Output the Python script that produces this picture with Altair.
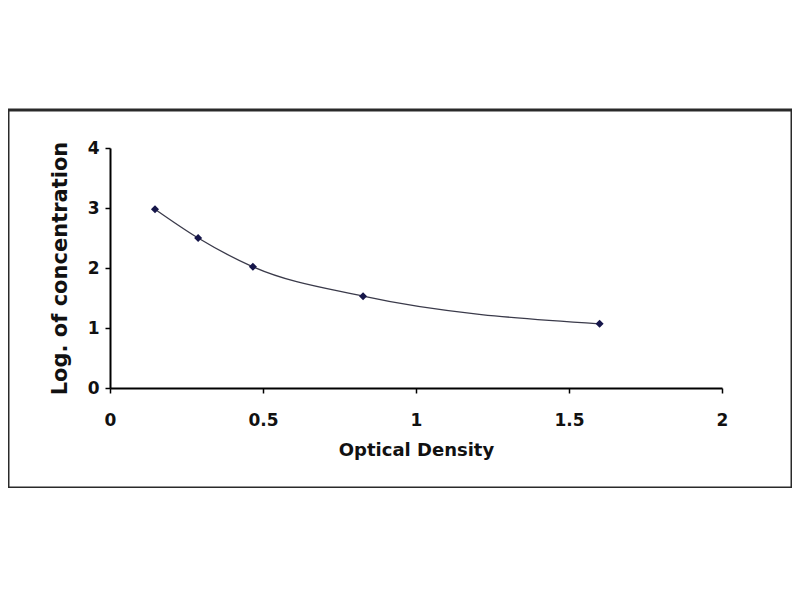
import altair as alt
import pandas as pd

# leituras do gráfico (densidade óptica x log da concentração)
optical_density = [0.147, 0.288, 0.467, 0.827, 1.60]
log_conc = [2.98, 2.50, 2.02, 1.53, 1.07]

x_ticks = [0, 0.5, 1, 1.5, 2]
y_ticks = [0, 1, 2, 3, 4]

df = pd.DataFrame({'od': optical_density, 'logc': log_conc})

FONT = 'DejaVu Sans'

# escalas com faixa em pixels, para o quadro ficar maior que a área dos eixos
x_scale = alt.Scale(domain=[0, 2], range=[102, 714], nice=False)
y_scale = alt.Scale(domain=[0, 4], range=[278, 38], nice=False)

x_enc = alt.X(
    'od:Q',
    scale=x_scale,
    axis=alt.Axis(
        title='Optical Density', values=x_ticks, format='~g', offset=-100,
        grid=False, tickSize=5, labelPadding=19, titlePadding=13, labelFlush=False,
        domainColor='black', domainWidth=2, tickColor='black', tickWidth=1.5,
        labelFont=FONT, labelFontSize=17, labelFontWeight='bold', labelColor='#111',
        titleFont=FONT, titleFontSize=18, titleFontWeight='bold', titleColor='#111',
    ),
)
y_enc = alt.Y(
    'logc:Q',
    scale=y_scale,
    axis=alt.Axis(
        title='Log. of concentration', values=y_ticks, format='d', offset=-102,
        grid=False, tickSize=5, labelPadding=6, titlePadding=17, labelFlush=False,
        domainColor='black', domainWidth=2, tickColor='black', tickWidth=1.5,
        labelFont=FONT, labelFontSize=17, labelFontWeight='bold', labelColor='#111',
        titleFont=FONT, titleFontSize=21, titleFontWeight='bold', titleColor='#111',
    ),
)

curve = alt.Chart(df).mark_line(
    interpolate='monotone', color='#3a3a4a', strokeWidth=1.3
).encode(x=x_enc, y=y_enc)

points = alt.Chart(df).mark_point(
    shape='diamond', filled=True, size=65, color='#16164a', opacity=1
).encode(x=x_enc, y=y_enc)

chart = (curve + points).properties(
    width=784,
    height=378,
    autosize=alt.AutoSizeParams(type='none'),
    padding={'left': 0, 'top': 102, 'right': 0, 'bottom': 0},
    background='white',
).configure_view(stroke='#2a2a2a', strokeWidth=3)

chart.save("out.html", embed_options={"renderer": "svg", "actions": False})
